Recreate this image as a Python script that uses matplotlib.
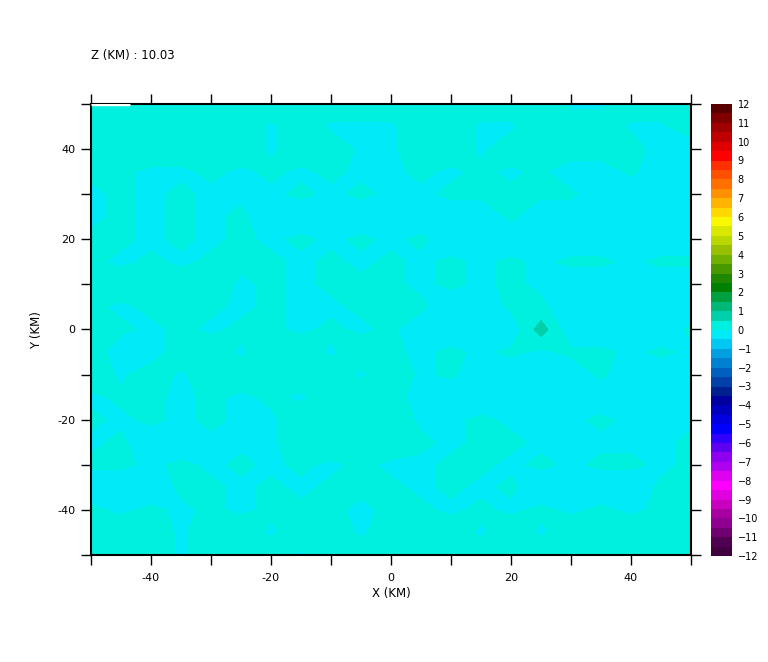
import numpy as np
import matplotlib
matplotlib.use("Agg")
import matplotlib.pyplot as plt
from matplotlib.colors import ListedColormap, BoundaryNorm
from matplotlib.ticker import FixedLocator, FuncFormatter

# grid of the field, 5 km spacing
x_km = np.arange(-50, 51, 5)
y_km = np.arange(50, -51, -5)
# '+' / 'p' : 0 .. 0.5 (solid / mixed)   '-' / 'm' : -0.5 .. 0 (solid / mixed)
# one row per y, top row is y=50
rows = [
    "++++++++++++++++mm+++",
    "++++++m+mmm++mm+++mm+",
    "++++++m++mm++m+++++--",
    "ppmmpmpmpmmpmpmp--p--",
    "mpmpmmmpmpmmppppp----",
    "mpmpmp--------p------",
    "ppmpmpmpmpmp---------",
    "pmpmpppmpmpmpmpmppmpp",
    "+++++mpmpppmpmpm-----",
    "pmpppmpmmppp--pp-----",
    "ppmpmppmpmp----+----p",
    "+--++m++m+pmpmpmppmpm",
    "+m+m+++++m+mp----p---",
    "mppmpmpm+++----------",
    "pmpmpmm++++mmpmmmpmmm",
    "mp--mmm++++pmppmmmmmp",
    "ppmpmpmpmpmmppmpmppmp",
    "---ppmpmpppmpmp----pp",
    "pmpmpmpppmppmpmpmpmpp",
    "+++m++m++m+++m+m+++++",
    "+++m+++m+++++++++++++",
]
code_val = {"+": 0.35, "p": 0.1, "-": -0.35, "m": -0.1}
# small stronger cell east of centre
blob_x, blob_y, blob_val = 25, 0, 0.75
# missing strip on the top edge
gap_x = [-50, -43.5]
gap_y = [50, 50]

z = np.array([[code_val[c] for c in r] for r in rows])
z[list(y_km).index(blob_y), list(x_km).index(blob_x)] = blob_val

levels = np.arange(-12, 12.5, 0.5)
colors = [
    "#400040", "#500050", "#700070", "#900090", "#a800a0", "#c800c0",
    "#e000e0", "#ff00ff", "#e000f0", "#b000f0", "#9000f0", "#6000f0",
    "#3000ff", "#0000ff", "#0000e0", "#0000c0", "#0000a0", "#002090",
    "#0040a8", "#0060c0", "#0080d0", "#00a0e0", "#00c8f0", "#00eaf8",
    "#00f0e0", "#00d0aa", "#00b878", "#00a040", "#008000", "#208800",
    "#489800", "#70b000", "#98c000", "#b8d800", "#d8e800", "#f8f800",
    "#ffd800", "#ffb400", "#ff9000", "#ff7000", "#ff5000", "#ff3000",
    "#ff0000", "#e00000", "#c00000", "#a00000", "#800000", "#580000",
]
cmap = ListedColormap(colors)
norm = BoundaryNorm(levels, cmap.N)

fig = plt.figure(figsize=(7.68, 6.62), dpi=100)
ax = fig.add_axes([91/768, 1 - 555/662, 600/768, 451/662])
cs = ax.contourf(x_km, y_km, z, levels=levels, cmap=cmap, norm=norm)
ax.plot(gap_x, gap_y, color="white", lw=2.5, solid_capstyle="butt", zorder=3)
ax.set_xlim(-50, 50)
ax.set_ylim(-50, 50)

ticks = np.arange(-50, 51, 10)
fmt = FuncFormatter(lambda v, p: "%d" % v if (v % 20 == 0 and abs(v) < 50) else "")
for a in (ax.xaxis, ax.yaxis):
    a.set_major_locator(FixedLocator(ticks))
    a.set_major_formatter(fmt)
ax.tick_params(direction="out", length=7.2, width=1, top=True, right=True,
               labelsize=8)
ax.tick_params(axis="x", pad=6)
ax.tick_params(axis="y", pad=4)
for s in ax.spines.values():
    s.set_linewidth(1.5)

fig.text(91/768, 1 - 55/662, "Z (KM) : 10.03", fontsize=8.5, va="center")
fig.text(391/768, 1 - 594/662, "X (KM)", fontsize=8.5, ha="center", va="center")
fig.text(37/768, 1 - 330/662, "Y (KM)", fontsize=8.5, ha="center", va="center",
         rotation=90)

cax = fig.add_axes([711/768, 1 - 556/662, 21/768, 452/662])
cb = fig.colorbar(cs, cax=cax, ticks=np.arange(-12, 13, 1))
cb.outline.set_visible(False)
cb.ax.minorticks_off()
cb.ax.tick_params(length=0, pad=4, labelsize=7)

fig.savefig("out.png", dpi=100)
